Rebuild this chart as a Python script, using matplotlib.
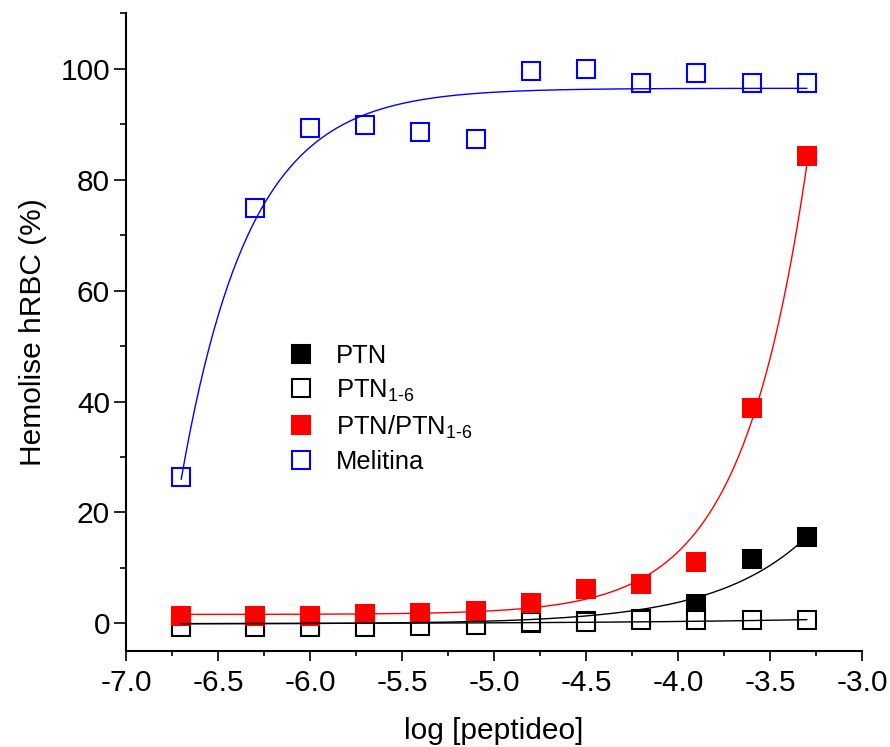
import numpy as np
import matplotlib
matplotlib.use("Agg")
import matplotlib.pyplot as plt
from matplotlib.ticker import MultipleLocator, FormatStrFormatter

plt.rcParams["font.family"] = ["Liberation Sans", "DejaVu Sans"]
plt.rcParams["mathtext.fontset"] = "custom"
plt.rcParams["mathtext.rm"] = "Liberation Sans"
plt.rcParams["mathtext.it"] = "Liberation Sans:italic"
plt.rcParams["mathtext.bf"] = "Liberation Sans:bold"

# log of peptide concentration (M)
log_conc = [-6.7, -6.3, -6.0, -5.7, -5.4, -5.1, -4.8, -4.5, -4.2, -3.9, -3.6, -3.3]

# haemolysis (%) for each peptide
ptn = [-0.3, -0.3, -0.3, -0.3, -0.2, -0.1, 0.1, 0.35, 0.8, 3.4, 11.6, 15.5]
ptn_1_6 = [-0.6, -0.6, -0.6, -0.6, -0.5, -0.3, 0.2, 0.3, 0.55, 0.6, 0.66, 0.6]
ptn_mix = [1.4, 1.4, 1.4, 1.7, 1.8, 2.2, 3.7, 6.2, 7.1, 11.0, 38.9, 84.3]
melitina = [26.3, 74.9, 89.4, 89.9, 88.6, 87.3, 99.7, 99.9, 97.4, 99.2, 97.4, 97.4]

# exponential fit parameters: y = y0 + a * exp((x - x0) / t)
fit_ptn = dict(y0=-0.1, a=15.7, x0=-3.3, t=0.5)
fit_ptn_1_6 = dict(y0=-0.1, a=0.76, x0=-3.3, t=1.2)
fit_mix = dict(y0=1.6, a=81.0, x0=-3.3, t=0.355)
fit_melitina = dict(y0=96.5, a=-70.5, x0=-6.7, t=-0.37)


def exp_fit(x, y0, a, x0, t):
    return y0 + a * np.exp((x - x0) / t)


fig = plt.figure(figsize=(8.9, 7.47), dpi=100)
ax = fig.add_axes([0.1416, 0.1285, 0.8269, 0.8535])

xs = np.linspace(min(log_conc), max(log_conc), 400)

ms = 12.4
mew = 1.5
ax.plot(log_conc, ptn, ls="none", marker="s", ms=ms, mew=mew,
        mfc="black", mec="black", zorder=3, label="PTN")
ax.plot(log_conc, ptn_1_6, ls="none", marker="s", ms=ms, mew=mew,
        mfc="white", mec="black", zorder=4, label=r"PTN$_{\rm 1\text{-}6}$")
ax.plot(log_conc, ptn_mix, ls="none", marker="s", ms=ms, mew=mew,
        mfc="red", mec="red", zorder=5, label=r"PTN/PTN$_{\rm 1\text{-}6}$")
ax.plot(log_conc, melitina, ls="none", marker="s", ms=ms, mew=mew,
        mfc="white", mec="#0000ff", zorder=5, label="Melitina")

ax.plot(xs, exp_fit(xs, **fit_ptn), color="black", lw=1.0, zorder=6)
ax.plot(xs, exp_fit(xs, **fit_ptn_1_6), color="black", lw=1.0, zorder=6)
ax.plot(xs, exp_fit(xs, **fit_mix), color="red", lw=1.0, zorder=6)
ax.plot(xs, exp_fit(xs, **fit_melitina), color="#0000ff", lw=1.0, zorder=6)

ax.set_xlim(-7.0, -3.0)
ax.set_ylim(-5, 110)

ax.spines["top"].set_visible(False)
ax.spines["right"].set_visible(False)
for s in ("left", "bottom"):
    ax.spines[s].set_linewidth(1.5)

ax.xaxis.set_major_locator(MultipleLocator(0.5))
ax.xaxis.set_minor_locator(MultipleLocator(0.25))
ax.xaxis.set_major_formatter(FormatStrFormatter("%.1f"))
ax.yaxis.set_major_locator(MultipleLocator(20))
ax.yaxis.set_minor_locator(MultipleLocator(10))

ax.tick_params(axis="both", which="both", direction="out", width=1.2,
               labelsize=21.5)
ax.tick_params(axis="x", which="major", length=7, pad=6)
ax.tick_params(axis="x", which="minor", length=3.5)
ax.tick_params(axis="y", which="major", length=8.5, pad=3)
ax.tick_params(axis="y", which="minor", length=4.5)

ax.set_xlabel("log [peptideo]", fontsize=21.5, labelpad=14)
ax.set_ylabel("Hemolise hRBC (%)", fontsize=21.5, labelpad=10)

ax.legend(loc="upper left", bbox_to_anchor=(0.224, 0.482), frameon=False,
          fontsize=18.4, handlelength=0.8, handletextpad=0.97,
          labelspacing=0.38, borderpad=0, borderaxespad=0)

fig.savefig("out.png", dpi=100)
